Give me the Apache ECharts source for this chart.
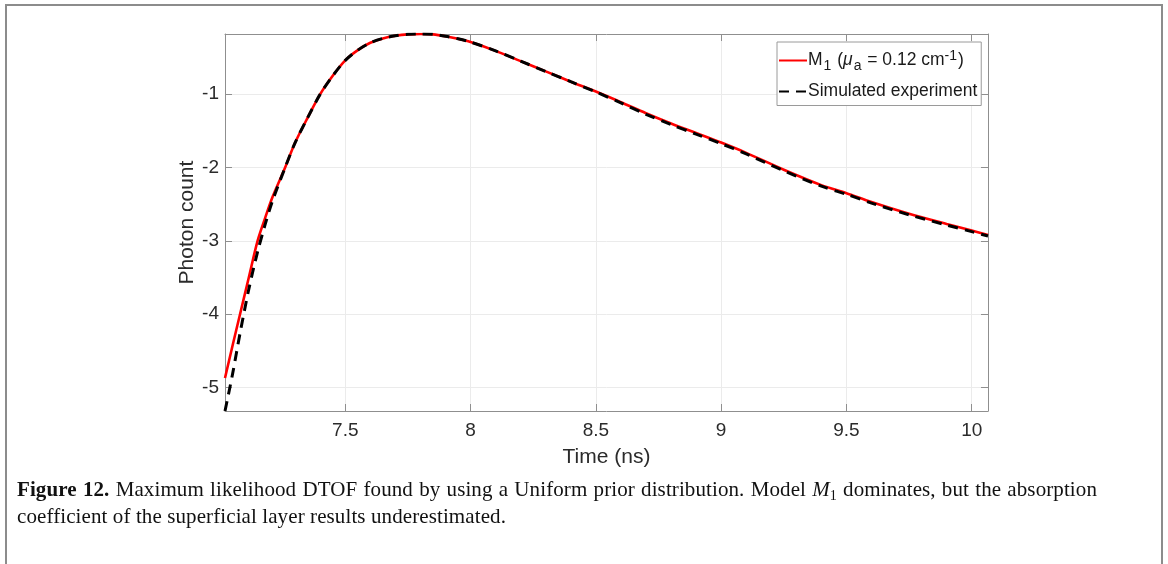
<!DOCTYPE html>
<html>
<head>
<meta charset="utf-8">
<script src="https://cdn.jsdelivr.net/npm/echarts@6/dist/echarts.min.js"></script>
<style>
  html, body { margin: 0; padding: 0; background: #fff; }
  #wrap { position: relative; width: 1168px; height: 564px; overflow: hidden; }
  #frame { position: absolute; left: 5px; top: 4px; width: 1154px; height: 600px;
           border: 2px solid #8c8c8c; box-sizing: content-box; }
  #chart { position: absolute; left: 0; top: 0; width: 1168px; height: 564px; }
  #caption { position: absolute; left: 17px; top: 476px; width: 1080px;
             font-family: "Liberation Serif", "DejaVu Serif", serif; font-size: 21px;
             line-height: 27px; color: #111; letter-spacing: 0.1px; }
  #caption .l1 { display: block; text-align: justify; text-align-last: justify; white-space: nowrap; }
  #caption b { font-weight: bold; }
  #caption sub { font-size: 14px; vertical-align: -4px; line-height: 0; }
</style>
</head>
<body>
<div id="wrap">
  <div id="frame"></div>
  <div id="chart"></div>
  <div id="caption"><span class="l1"><b>Figure 12.</b> Maximum likelihood DTOF found by using a Uniform prior distribution. Model <i>M</i><sub>1</sub> dominates, but the absorption</span>coefficient of the superficial layer results underestimated.</div>
</div>
<script>
// Time samples (ns) shared by both curves
const timeNs = [7.02, 7.05, 7.08, 7.115, 7.15, 7.18, 7.21, 7.26, 7.30, 7.35, 7.40, 7.45, 7.50,
  7.55, 7.60, 7.65, 7.70, 7.75, 7.80, 7.85, 7.90, 7.95, 8.00, 8.10, 8.20, 8.30, 8.40, 8.50,
  8.60, 8.70, 8.80, 8.90, 9.00, 9.10, 9.25, 9.40, 9.50, 9.60, 9.75, 9.90, 10.00, 10.065];

// Model M1 (log photon count)
const modelM1 = [-4.87, -4.43, -4.00, -3.50, -3.00, -2.69, -2.40, -2.00, -1.66, -1.32, -1.00, -0.75, -0.54,
  -0.40, -0.30, -0.24, -0.205, -0.185, -0.18, -0.185, -0.21, -0.245, -0.29, -0.41, -0.55, -0.69, -0.83, -0.965,
  -1.11, -1.26, -1.40, -1.53, -1.66, -1.80, -2.03, -2.24, -2.35, -2.47, -2.63, -2.77, -2.86, -2.92];

// Simulated experiment (log photon count)
const simulated = [-5.32, -4.82, -4.26, -3.66, -3.15, -2.78, -2.45, -2.00, -1.66, -1.32, -1.00, -0.75, -0.54,
  -0.40, -0.30, -0.24, -0.205, -0.185, -0.18, -0.185, -0.21, -0.245, -0.29, -0.41, -0.55, -0.69, -0.83, -0.97,
  -1.12, -1.275, -1.415, -1.545, -1.675, -1.815, -2.045, -2.255, -2.365, -2.485, -2.645, -2.785, -2.875, -2.935];

const xTicks = [7.5, 8, 8.5, 9, 9.5, 10];
const yTicks = [-5, -4, -3, -2, -1];
const xRange = [7.02, 10.065];
const yRange = [-5.32, -0.18];

const legendM1 = '{t|M}{sub|1}{t| (}{mu|\u03bc}{sub|a}{t| = 0.12 cm}{sup|-1}{t|)}';
const legendSim = '{t|Simulated experiment}';

const FONT = '"Liberation Sans", Arial, sans-serif';
const AXIS_COLOR = '#8f8f8f';
const TEXT_COLOR = '#2b2b2b';

function pairs(xs, ys) { return xs.map((x, i) => [x, ys[i]]); }

function xAxisDef(primary) {
  return {
    type: 'value', min: xRange[0], max: xRange[1],
    position: primary ? 'bottom' : 'top',
    axisLine: { show: true, onZero: false, lineStyle: { color: AXIS_COLOR, width: 1 } },
    axisTick: { show: true, inside: true, length: 7, customValues: xTicks, lineStyle: { color: AXIS_COLOR } },
    axisLabel: primary ? { show: true, customValues: xTicks, margin: 10, fontFamily: FONT, fontSize: 19, color: TEXT_COLOR,
      formatter: v => String(v) } : { show: false },
    splitLine: primary ? { show: true, lineStyle: { color: '#ebebeb', width: 1 } } : { show: false },
    name: primary ? 'Time (ns)' : '', nameLocation: 'middle', nameGap: 36, nameMoveOverlap: false,
    nameTextStyle: { fontFamily: FONT, fontSize: 21, color: TEXT_COLOR }
  };
}

function yAxisDef(primary) {
  return {
    type: 'value', min: yRange[0], max: yRange[1],
    position: primary ? 'left' : 'right',
    axisLine: { show: true, onZero: false, lineStyle: { color: AXIS_COLOR, width: 1 } },
    axisTick: { show: true, inside: true, length: 7, customValues: yTicks, lineStyle: { color: AXIS_COLOR } },
    axisLabel: primary ? { show: true, customValues: yTicks, margin: 6, fontFamily: FONT, fontSize: 19, color: TEXT_COLOR,
      formatter: v => String(v) } : { show: false },
    splitLine: primary ? { show: true, lineStyle: { color: '#ebebeb', width: 1 } } : { show: false },
    name: primary ? 'Photon count' : '', nameLocation: 'middle', nameGap: 27, nameMoveOverlap: false,
    nameTextStyle: { fontFamily: FONT, fontSize: 21, color: TEXT_COLOR }
  };
}

const chart = echarts.init(document.getElementById('chart'), null, { renderer: 'canvas' });
chart.setOption({
  animation: false,
  backgroundColor: 'transparent',
  grid: { left: 225, top: 34, right: 180, bottom: 153, containLabel: false },
  xAxis: [xAxisDef(true), xAxisDef(false)],
  yAxis: [yAxisDef(true), yAxisDef(false)],
  legend: {
    orient: 'vertical', left: 777, top: 42,
    itemWidth: 28, itemHeight: 14, itemGap: 9,
    padding: [7, 4, 5, 1],
    backgroundColor: '#fff', borderColor: '#9a9a9a', borderWidth: 1,
    itemStyle: { opacity: 0 },
    textStyle: {
      fontFamily: FONT, fontSize: 17.5, color: '#1a1a1a', padding: [0, 0, 0, -4],
      rich: {
        t: { fontFamily: FONT, fontSize: 17.5, color: '#1a1a1a' },
        mu: { fontFamily: FONT, fontSize: 17.5, fontStyle: 'italic', color: '#1a1a1a' },
        sub: { fontFamily: FONT, fontSize: 14, color: '#1a1a1a', padding: [12, 1, 0, 1] },
        sup: { fontFamily: FONT, fontSize: 14, color: '#1a1a1a', padding: [0, 1, 9, 0] }
      }
    },
    formatter: name => name === 'M1' ? legendM1 : legendSim,
    data: ['M1', 'Simulated']
  },
  series: [
    {
      name: 'M1', type: 'line', smooth: 0.3, showSymbol: false, symbol: 'none',
      data: pairs(timeNs, modelM1),
      lineStyle: { color: '#ff0000', width: 2.6 }, itemStyle: { color: '#ff0000' }, z: 2
    },
    {
      name: 'Simulated', type: 'line', smooth: 0.3, showSymbol: false, symbol: 'none',
      data: pairs(timeNs, simulated),
      lineStyle: { color: '#000000', width: 3, type: [10, 7] }, itemStyle: { color: '#000000' }, z: 3
    }
  ]
});
</script>
</body>
</html>
